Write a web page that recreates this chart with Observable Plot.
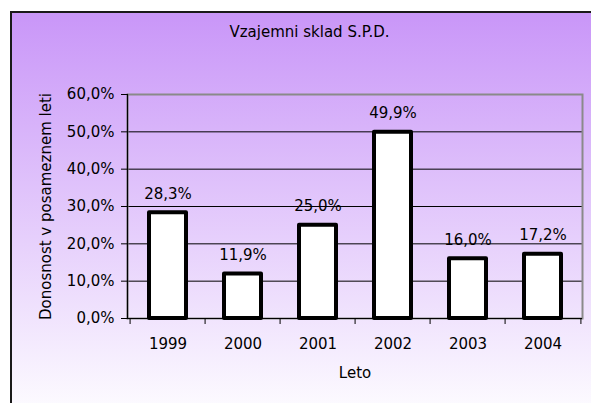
<!DOCTYPE html>
<html><head><meta charset="utf-8">
<script src="https://cdn.jsdelivr.net/npm/d3@7"></script>
<script src="https://cdn.jsdelivr.net/npm/@observablehq/plot@0.6"></script>
<style>
body{margin:0;background:#fff;}
#wrap{position:relative;width:591px;height:403px;overflow:hidden;font-family:"DejaVu Sans",sans-serif;}
#bg{position:absolute;left:10px;top:11px;width:600px;height:400px;border-left:2px solid #1a1a1a;border-top:2px solid #1a1a1a;background:linear-gradient(to bottom,#c996f8,#fdfcff);}
#title{position:absolute;left:14px;width:591px;top:23px;text-align:center;font-size:15px;color:#000;}
#chart{position:absolute;left:0;top:0;}
</style></head><body>
<div id="wrap"><div id="bg"></div><div id="title">Vzajemni sklad S.P.D.</div><div id="chart"></div></div>
<script>
const years = ["1999","2000","2001","2002","2003","2004"];
const returns = [0.283,0.119,0.250,0.499,0.160,0.172];
const returnLabels = ["28,3%","11,9%","25,0%","49,9%","16,0%","17,2%"];
const yTicks = [0,0.1,0.2,0.3,0.4,0.5,0.6];
const data = years.map((y,i)=>({year:y, value:returns[i], label:returnLabels[i]}));
const W=591,H=403,ML=127,MR=9,MT=94,MB=85;
const step=(W-ML-MR)/years.length;
const fmt = d => (d*100).toFixed(1).replace(".",",")+"%";
const plot = Plot.plot({
 width:W,height:H,marginLeft:ML,marginRight:MR,marginTop:MT,marginBottom:MB,
 style:{background:"transparent",fontFamily:"DejaVu Sans, sans-serif",fontSize:"15px",color:"#000"},
 x:{domain:years,padding:0},
 y:{domain:[0,0.6]},
 marks:[
  Plot.gridY(yTicks,{stroke:"#000",strokeOpacity:1,strokeWidth:1}),
  Plot.frame({stroke:"#8a8a8a",strokeWidth:2}),
  Plot.frame({anchor:"left",stroke:"black",strokeWidth:1.2}),
  Plot.barY(data,{x:"year",y:"value",fill:"white",stroke:"black",strokeWidth:4,strokeLinejoin:"round",insetLeft:19,insetRight:19}),
  Plot.text(data,{x:"year",y:"value",text:"label",dy:-19,fontSize:15}),
  Plot.ruleY([0],{stroke:"black",strokeWidth:1.2}),
  Plot.axisY(yTicks,{tickFormat:fmt,tickSize:6,tickPadding:7,label:"Donosnost v posameznem leti",labelAnchor:"center",labelArrow:"none",labelOffset:87,fontSize:15}),
  Plot.axisX({tickSize:0,tickPadding:20,label:"Leto",labelAnchor:"center",labelArrow:"none",labelOffset:59,fontSize:15}),
  Plot.axisX({tickSize:6,tickFormat:()=>"",dx:-step/2,label:null}),
  Plot.axisX([years[years.length-1]],{tickSize:6,tickFormat:()=>"",dx:step/2,label:null})
 ]
});
document.getElementById("chart").appendChild(plot);
</script>
</body></html>
